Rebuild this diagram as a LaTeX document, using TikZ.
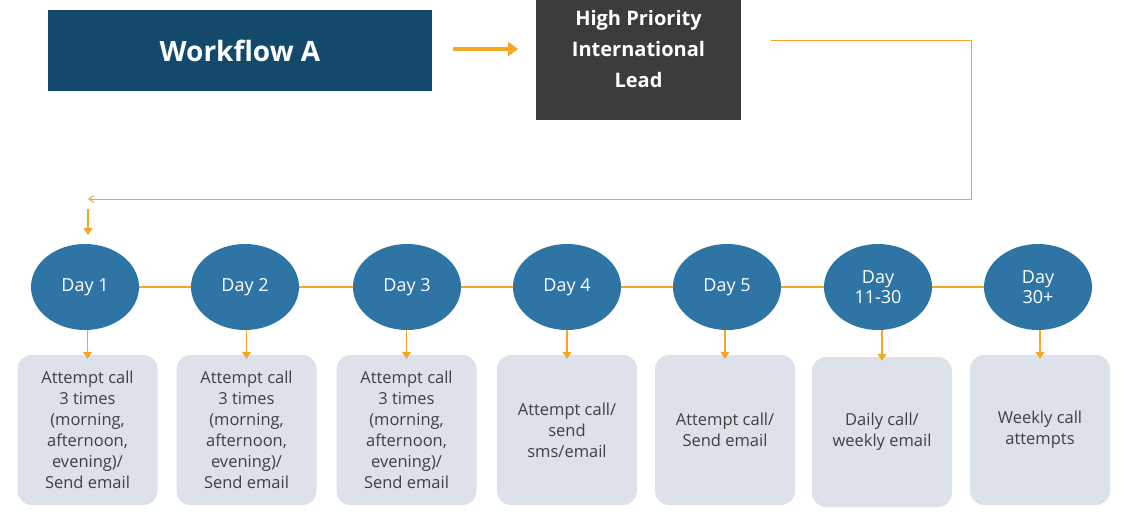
\documentclass[tikz,border=0pt]{standalone}
\usepackage{fontspec}
\setmainfont{Open Sans}
\usetikzlibrary{shapes.geometric,arrows.meta}
\definecolor{navy}{HTML}{134A6B}
\definecolor{dgray}{HTML}{3C3C3C}
\definecolor{blu}{HTML}{2E75A6}
\definecolor{org}{HTML}{F5A623}
\definecolor{pale}{HTML}{DCE1EA}
\definecolor{txt}{HTML}{404040}
\tikzset{
 day/.style={ellipse,fill=blu,minimum width=108pt,minimum height=86pt,inner sep=0pt,text=white,font=\fontsize{18}{20}\selectfont,align=center},
 info/.style={rounded corners=14pt,fill=pale,minimum width=140pt,minimum height=150pt,inner sep=2pt,text=txt,font=\fontsize{16.5}{21}\selectfont,align=center},
 conn/.style={org,line width=1pt},
 arr/.style={org,line width=1.5pt,-{Triangle[length=7pt,width=9pt]}}
}
\begin{document}
\begin{tikzpicture}[x=1pt,y=-1pt]
\useasboundingbox (0,0) rectangle (1125,519);
\node[fill=navy,minimum width=384pt,minimum height=81pt,text=white,font=\fontsize{28}{30}\selectfont\bfseries] (wa) at (240,50.5) {Workflow A};
\node[fill=dgray,minimum width=205pt,minimum height=120pt,text=white,font=\fontsize{20}{31}\selectfont\bfseries,align=center] (hp) at (638.5,60) {High Priority\\International\\Lead\\[-8pt]};
\coordinate (w1) at (453,49);
\coordinate (w2) at (518,49);
\draw[org,line width=4pt,-{Triangle[length=10pt,width=14pt]}] (w1) -- (w2);
\coordinate (s) at (771,41);
\coordinate (c1) at (971,41);
\coordinate (c2) at (971,199);
\coordinate (e) at (88,199);
\draw[conn,-{Straight Barb[length=5pt,width=7pt]}] (s) -- (c1) -- (c2) -- (e);
\coordinate (a1) at (88,209);
\coordinate (a2) at (88,235);
\draw[arr] (a1) -- (a2);
\foreach \i/\x/\t/\bx/\by/\lab in {
 1/85/Day 1/87.5/430/{Attempt call\\3 times\\(morning,\\afternoon,\\evening)/\\Send email},
 2/245/Day 2/246.5/430/{Attempt call\\3 times\\(morning,\\afternoon,\\evening)/\\Send email},
 3/407/Day 3/406.5/430/{Attempt call\\3 times\\(morning,\\afternoon,\\evening)/\\Send email},
 4/567/Day 4/567/430/{Attempt call/\\send\\sms/email},
 5/727/Day 5/725/430/{Attempt call/\\Send email},
 6/878/{Day\\11-30}/882/432/{Daily call/\\weekly email},
 7/1038/{Day\\30+}/1040/430/{Weekly call\\attempts}} {
 \node[day] (d\i) at (\x,287) {\t};
 \node[info] (b\i) at (\bx,\by) {\lab};
 \draw[arr] (d\i.south -| b\i.north) -- ([yshift=-4pt]b\i.north);
}
\foreach \i/\j in {1/2,2/3,3/4,4/5,5/6,6/7} \draw[conn,line width=1.5pt] (d\i) -- (d\j);
\end{tikzpicture}
\end{document}
